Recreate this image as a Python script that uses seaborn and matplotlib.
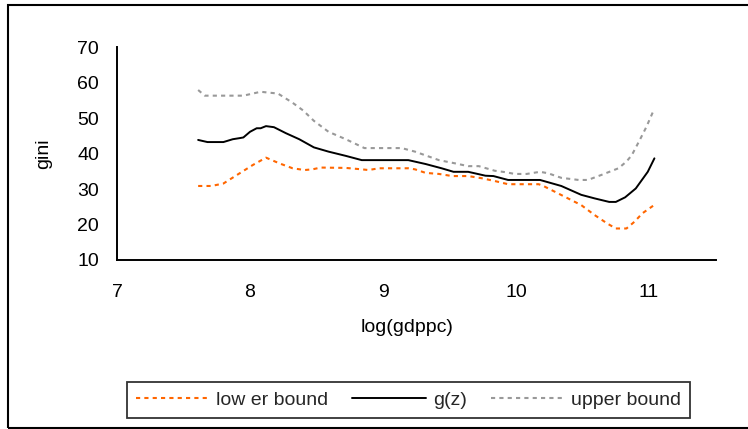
import numpy as np
import pandas as pd
import matplotlib
matplotlib.use("Agg")
import matplotlib.pyplot as plt
import matplotlib.patches as mpatches
import seaborn as sns

# ---- data ----
x_low = [7.61, 7.71, 7.80, 7.91, 8.02, 8.12, 8.22, 8.32, 8.41, 8.47, 8.53, 8.72, 8.84, 8.89,
         8.97, 9.19, 9.24, 9.32, 9.42, 9.52, 9.64, 9.74, 9.84, 9.94, 10.17, 10.20, 10.29, 10.39,
         10.49, 10.59, 10.69, 10.75, 10.83, 10.89, 10.95, 11.03]
y_low = [30.9, 30.9, 31.6, 34.2, 36.8, 38.9, 37.3, 35.9, 35.4, 35.6, 36.1, 36.0, 35.6, 35.4,
         35.9, 35.9, 35.6, 34.6, 34.3, 33.7, 33.7, 33.1, 32.3, 31.4, 31.4, 31.0, 29.3, 27.4,
         25.5, 22.7, 20.2, 18.9, 18.9, 20.8, 23.2, 25.3]

x_mid = [7.61, 7.68, 7.80, 7.87, 7.92, 7.95, 8.00, 8.05, 8.08, 8.12, 8.18, 8.27, 8.37, 8.48,
         8.59, 8.72, 8.84, 9.19, 9.32, 9.44, 9.53, 9.64, 9.77, 9.83, 9.94, 10.18, 10.34, 10.49,
         10.59, 10.70, 10.75, 10.82, 10.90, 10.99, 11.04]
y_mid = [43.9, 43.3, 43.3, 44.1, 44.4, 44.6, 46.2, 47.2, 47.2, 47.8, 47.5, 45.8, 44.1, 41.8,
         40.6, 39.4, 38.2, 38.2, 37.1, 35.9, 34.9, 34.9, 33.8, 33.7, 32.6, 32.6, 30.9, 28.4,
         27.4, 26.4, 26.4, 27.7, 30.2, 34.9, 38.7]

x_up = [7.61, 7.66, 7.95, 8.08, 8.13, 8.21, 8.32, 8.40, 8.48, 8.59, 8.72, 8.86, 9.14, 9.24,
        9.42, 9.54, 9.64, 9.72, 9.84, 9.92, 9.99, 10.08, 10.18, 10.24, 10.34, 10.47, 10.54,
        10.64, 10.77, 10.83, 10.87, 10.93, 10.98, 11.03]
y_up = [58.0, 56.4, 56.4, 57.5, 57.3, 57.0, 54.4, 52.2, 49.3, 46.2, 44.1, 41.6, 41.6, 40.6,
        38.2, 37.3, 36.5, 36.5, 35.2, 34.8, 34.3, 34.3, 34.9, 34.5, 33.2, 32.6, 32.6,
        34.0, 35.9, 37.8, 39.6, 43.9, 47.6, 51.9]

series_names = ["low er bound", "g(z)", "upper bound"]
x_ticks = [7, 8, 9, 10, 11]
y_ticks = [10, 20, 30, 40, 50, 60, 70]

# ---- styling ----
sns.set_style("white")
plt.rcParams['font.family'] = ['Liberation Sans', 'DejaVu Sans']
FS = 14

fig = plt.figure(figsize=(7.48, 4.29), dpi=100)
W, H = 748, 429
ax = fig.add_axes([117 / W, 1 - 260 / H, (715.6 - 117) / W, (260 - 47.5) / H])

df_low = pd.DataFrame({"x": x_low, "y": y_low})
df_mid = pd.DataFrame({"x": x_mid, "y": y_mid})
df_up = pd.DataFrame({"x": x_up, "y": y_up})

sns.lineplot(data=df_low, x="x", y="y", ax=ax, color="#FF6600", lw=1.5,
             label=series_names[0], sort=False)
sns.lineplot(data=df_mid, x="x", y="y", ax=ax, color="black", lw=1.4,
             label=series_names[1], sort=False)
sns.lineplot(data=df_up, x="x", y="y", ax=ax, color="#999999", lw=1.5,
             label=series_names[2], sort=False)
ax.lines[0].set_dashes((2, 2))
ax.lines[2].set_dashes((2, 2))

ax.set_xlim(7, 11.5)
ax.set_ylim(10, 70)
ax.set_xticks(x_ticks)
ax.set_yticks(y_ticks)
ax.set_xticklabels([str(v) for v in x_ticks])
ax.set_yticklabels([str(v) for v in y_ticks])
ax.tick_params(axis="both", direction="out", length=5, width=1.3, color="black",
               labelsize=FS, labelcolor="black")
ax.tick_params(axis="x", pad=12)
ax.tick_params(axis="y", pad=8)
for s in ["top", "right"]:
    ax.spines[s].set_visible(False)
for s in ["left", "bottom"]:
    ax.spines[s].set_color("black")
    ax.spines[s].set_linewidth(1.4)
ax.set_xlabel("log(gdppc)", fontsize=FS, color="black")
ax.set_ylabel("gini", fontsize=FS, color="black")
ax.xaxis.set_label_coords(0.485, -0.278)
ax.yaxis.set_label_coords(-0.108, 0.5)
ax.grid(False)

handles, labels = ax.get_legend_handles_labels()
ax.get_legend().remove()
leg = fig.legend(handles, labels, ncol=3, loc="center",
                 bbox_to_anchor=(127 / W, 1 - 421 / H, (690 - 127) / W, 42 / H),
                 mode="expand", fontsize=FS, frameon=True, fancybox=False,
                 handlelength=3.8, handletextpad=0.35, columnspacing=0.5,
                 borderpad=0.45, borderaxespad=0)
leg.get_frame().set_edgecolor("black")
leg.get_frame().set_linewidth(1.3)

# outer chart-area border (right side runs off the image)
rect = mpatches.Rectangle((7.5 / W, 1 - 428.3 / H), 1.05, (428.3 - 5) / H,
                          transform=fig.transFigure, fill=False, edgecolor="black",
                          lw=1.5, clip_on=False)
fig.patches.append(rect)

fig.savefig("out.png", dpi=100)
